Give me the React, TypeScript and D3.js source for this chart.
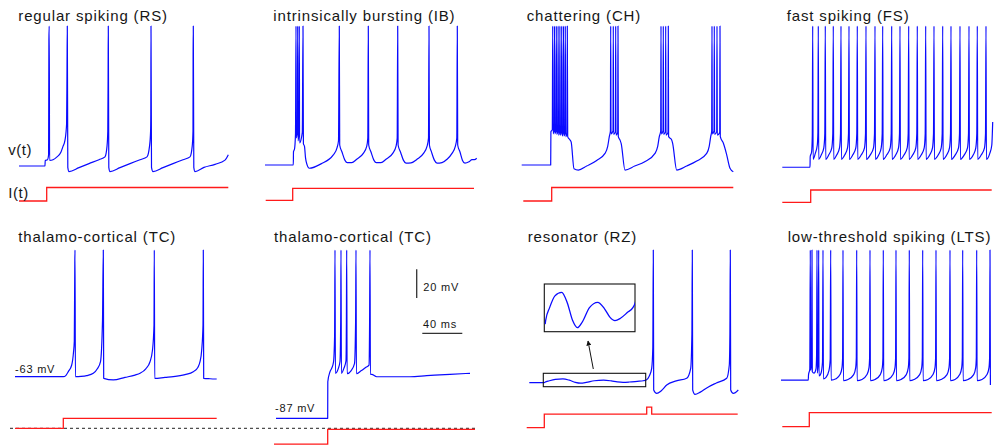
import React from "react";
import * as d3 from "d3";

type P = [number, number];

// ---------- data (time in ms, membrane potential in mV, current in arbitrary units) ----------
const TITLES = [
  "regular spiking (RS)",
  "intrinsically bursting (IB)",
  "chattering (CH)",
  "fast spiking (FS)",
  "thalamo-cortical (TC)",
  "thalamo-cortical (TC)",
  "resonator (RZ)",
  "low-threshold spiking (LTS)",
];

const RS_V: P[] = [[0,-70],[26,-70],[26.2,-66],[28.5,-65.5],[29.6,-62],[29.9,20],[30.2,30],[30.6,-66],[34,-65.5],[38,-63.5],[42,-60],[44,-56],[46,-51.5],[47.6,-40],[48,-2],[48.3,30],[48.8,-71],[50,-74],[60,-71.2],[70,-68.3],[80,-65.5],[86,-63.5],[88,-56],[88.8,-45],[89.1,-6],[89.3,30],[89.8,-71],[91,-74],[101,-71.2],[111,-68.3],[121,-65.5],[128,-63.5],[130.5,-56],[131.6,-45],[131.8,-33],[132,30],[132.5,-71],[134,-74],[144,-71.2],[154,-68.3],[164,-65.5],[171,-63.5],[173.2,-56],[174,-45],[174.1,8],[174.3,30],[174.8,-71],[176,-74],[185,-71],[196,-68.8],[206,-65.8],[209.3,-62]];
const RS_I: P[] = [[0,0],[27.7,10],[209.3,10]];

const IB_V: P[] = [[0,-69.3],[28.3,-69.3],[28.5,-59.8],[29.5,-58],[30.5,-47],[31,30],[31.3,-50],[32.4,-45],[32.7,30],[33,-52],[34,-46],[34.3,30],[34.6,-53.5],[37.3,-46],[38,30],[38.4,-54],[39.5,-56],[40.5,-64],[42,-69],[44.3,-71.6],[56,-68.5],[68.3,-62.1],[72,-57],[73.5,-52],[74.3,30],[74.7,-55],[77,-60],[80,-66],[82.3,-67.6],[86.7,-67.6],[91.7,-65.2],[98.3,-61],[101.7,-56],[102.8,-50],[103.3,30],[103.7,-55],[106,-60],[109,-66],[111.3,-67.6],[116,-67.6],[121,-65.2],[127.7,-61],[131,-56],[132.2,-50],[132.7,30],[133.1,-55],[135.5,-60],[138.5,-66],[141,-68],[146,-67.8],[152,-65.2],[158.5,-61],[162,-56],[163.5,-50],[164,30],[164.4,-55],[166.5,-60],[169.5,-66],[172,-68],[177,-67.6],[182,-65.2],[187,-61],[190.3,-56],[191.8,-50],[192.3,30],[192.7,-55],[195,-60],[197.5,-66],[200,-68],[204,-67],[207,-65.5],[209.5,-65.5],[211.7,-64.5]];
const IB_I: P[] = [[0.7,0],[27.7,8.9],[209,8.9]];

const CH_V: P[] = [[0,-69.3],[29,-69.3],[29.2,-45.5],[30.6,-44],[31,30],[31.4,-47],[32.5,-45],[32.8,30],[33.2,-47],[34.3,-45],[34.6,30],[35,-47.5],[36.1,-45.5],[36.4,30],[36.8,-48],[37.9,-46],[38.2,30],[38.6,-48],[39.7,-46],[40,30],[40.4,-48.5],[41.5,-46],[41.8,30],[42.2,-48.5],[43.3,-46.5],[43.6,30],[44,-49],[45.3,-46.5],[45.6,30],[46,-49],[48.3,-51.4],[49.5,-53],[52.3,-72],[56.6,-72.9],[65,-70],[75,-66],[83.3,-61],[86,-56],[87.6,-49],[88.7,-45],[89,30],[89.3,-47],[91.3,-45],[91.6,30],[91.9,-47.5],[93.7,-45.5],[94,30],[94.3,-48],[96,-46],[96.3,30],[96.6,-49],[98.3,-51.4],[99.5,-54],[103.3,-72.9],[113,-70],[123,-67],[133.3,-61],[136,-56],[137.6,-49],[139,-45],[139.3,30],[139.6,-47],[141.3,-45],[141.6,30],[141.9,-47.5],[143.7,-45.5],[144,30],[144.3,-48],[146.3,-46],[146.6,30],[146.9,-49],[150,-51.4],[151,-54],[155,-72.9],[165,-70],[175,-66.5],[185,-61],[187.5,-56],[189,-49],[190,-45],[190.3,30],[190.6,-47],[192.3,-45],[192.6,30],[192.9,-47.5],[195,-45.5],[195.3,30],[195.6,-48],[198,-46],[198.3,30],[198.6,-49],[201.7,-53.8],[205,-62],[208.3,-71.6],[211.6,-74.1]];
const CH_I: P[] = [[1.6,0],[30,10],[211.6,10]];

const FS_V: P[] = [[0,-70.9],[27.7,-70.9],[27.9,-63.4],[29.3,-60],[30,-48],[30.4,30],
[30.8,-65.2],[33,-61],[35,-55],[35.6,-46],[36,30],
[36.4,-65.2],[39,-62],[41.5,-57],[42.5,-47],[43,30],
[43.4,-65.2],[46.5,-62],[49.5,-57],[50.5,-47],[51,30],
[51.4,-65.2],[54.5,-62],[57.2,-57],[58.2,-47],[58.7,30],
[59.1,-65.2],[62.5,-62],[65.2,-57],[66.2,-47],[66.7,30],
[67.1,-65.2],[70.5,-62],[73.5,-57],[74.5,-47],[75,30],
[75.4,-65.2],[79,-62],[82.2,-57],[83.2,-47],[83.7,30],
[84.1,-65.2],[88,-62],[91.2,-57],[92.2,-47],[92.7,30],
[93.1,-65.2],[96.5,-62],[98.9,-57],[99.9,-47],[100.4,30],
[100.8,-65.2],[104.5,-62],[107.9,-57],[108.9,-47],[109.4,30],
[109.8,-65.2],[113.5,-62],[116.2,-57],[117.2,-47],[117.7,30],
[118.1,-65.2],[121.8,-62],[124.9,-57],[125.9,-47],[126.4,30],
[126.8,-65.2],[130.5,-62],[133.5,-57],[134.5,-47],[135,30],
[135.4,-65.2],[139,-62],[141.9,-57],[142.9,-47],[143.4,30],
[143.8,-65.2],[147.5,-62],[150.2,-57],[151.2,-47],[151.7,30],
[152.1,-65.2],[156,-62],[158.9,-57],[159.9,-47],[160.4,30],
[160.8,-65.2],[164.5,-62],[167.2,-57],[168.2,-47],[168.7,30],
[169.1,-65.2],[173,-62],[176.2,-57],[177.2,-47],[177.7,30],
[178.1,-65.2],[182,-62],[185.2,-57],[186.2,-47],[186.7,30],
[187.1,-65.2],[191,-62],[193.5,-57],[194.5,-47],[195,30],
[195.4,-65.2],[199,-62],[202.2,-57],[203.2,-47],[203.7,30],
[204.1,-65.2],[207.5,-61],[209.5,-55],[210.4,-38.6]];
const FS_I: P[] = [[0,0],[28.4,9.1],[209.4,9.1]];

const TC1_V: P[] = [[0,-63],[48.3,-63],[51,-62],[53.3,-59.3],[56.7,-54.4],[58.5,-45],[59.3,-37],[59.8,20],[60,30],[60.4,-63],[66,-62.8],[71.7,-62.2],[78.3,-60.5],[82.5,-57],[85.5,-52],[87.5,-22],[88.3,30],[88.7,-64.2],[98.3,-65.4],[110,-63.5],[120,-61.8],[125,-60.5],[131,-57],[135,-52],[137.5,-43.4],[139,-25],[139.3,30],[139.7,-64.2],[150,-63.5],[158.3,-63],[170,-61.5],[178.3,-59.3],[183,-56],[185,-52],[186.7,-43.4],[188,-25],[188.3,30],[188.7,-64.2],[195,-64.5],[201.7,-64.7]];
const TC1_I: P[] = [[0,0],[48.3,7.4],[201.7,7.4]];

const TC2_V: P[] = [[0,-87],[51.7,-87],[51.8,-61.6],[54,-54.6],[55.7,-52.2],[57.5,-48],[58.6,-30],[59,30],[59.4,-55.7],[62,-53],[64,-47.5],[64.7,-20],[65,30],[65.4,-55.7],[68,-52],[70,-47],[70.4,-20],[70.7,30],[71.1,-56],[75,-54],[78.5,-49],[79.6,-20],[80,30],[80.4,-56],[85,-54],[90,-51.5],[93,-50],[93.6,-20],[94,30],[94.4,-56.4],[95.7,-56.4],[100.7,-58.1],[134,-58.1],[150.7,-57.4],[174,-56.4],[194,-55.7]];
const TC2_I: P[] = [[-2,-12.4],[51.7,-1.5],[199,-1.5]];

const RZ_V: P[] = [[0,-64.8],[15,-64.8],[15.6,-64.45],[20,-63.4],[26,-62.4],[33.6,-62.1],[40,-63],[46,-64.5],[51.3,-65.1],[57,-64.6],[65,-63.4],[74.3,-62.95],[82,-63.5],[88,-64.2],[93.8,-64.5],[100,-64.3],[108,-63.8],[114,-63.4],[117,-62.9],[120,-60],[122.4,-54.5],[123.5,-40],[124,30],[124.4,-70],[127.4,-72.4],[132,-70.5],[137.4,-66.4],[147,-63.5],[157.4,-61.6],[161.4,-54.5],[162.6,-30],[163,30],[163.4,-70],[165.7,-73.1],[171,-71.5],[177.4,-68.5],[187,-65],[197.4,-61.6],[200,-52.1],[200.6,-30],[201,30],[201.4,-70],[204,-72.4],[209,-70]];
const RZ_I: P[] = [[-2.6,0],[15,10],[117.4,15.2],[122.4,10],[208.4,10]];
const RZ_ZOOM_WINDOW = [14, 116.4]; // ms shown in the magnified inset
const RZ_ZOOM_RANGE = [-65.1, -62.1]; // mV shown in the magnified inset

const LTS_V: P[] = [[0,-62.9],[27.3,-62.9],[27.5,-59.3],[28.8,-55],[29.3,30],[29.6,-56],[30.6,-50],[31,30],[31.3,-57],[33,-58],[35,-55],[35.6,-45],[36,30],[36.3,-58],[37.2,-50],[37.7,30],[38,-60],[40,-58],[41.5,-50],[42,30],[42.4,-62],[45,-61],[48,-56],[49.2,-48],[49.7,30],[50.1,-63],[55,-62],[59,-59],[61,-54],[61.6,-47],[62,30],
[62.4,-63.3],[67,-62.5],[72.7,-59],[74.7,-54],[75.3,-47],[75.7,30],
[76.1,-63.3],[81,-62.5],[86,-59],[88,-54],[88.6,-47],[89,30],
[89.4,-63.3],[94,-62.5],[99.3,-59],[101.3,-54],[101.9,-47],[102.3,30],
[102.7,-63.3],[107,-62.5],[112,-59],[114,-54],[114.6,-47],[115,30],
[115.4,-63.3],[120,-62.5],[125.3,-59],[127.3,-54],[127.9,-47],[128.3,30],
[128.7,-63.3],[133,-62.5],[138.7,-59],[140.7,-54],[141.3,-47],[141.7,30],
[142.1,-63.3],[147,-62.5],[152,-59],[154,-54],[154.6,-47],[155,30],
[155.4,-63.3],[160,-62.5],[166,-59],[168,-54],[168.6,-47],[169,30],
[169.4,-63.3],[174,-62.5],[178.7,-59],[180.7,-54],[181.3,-47],[181.7,30],
[182.1,-63.3],[187,-62.5],[192.7,-59],[194.7,-54],[195.3,-47],[195.7,30],
[196.1,-63.3],[201,-62.5],[206,-59],[208,-54],[208.6,-47],[209,30],[209.4,-66.4]];
const LTS_I: P[] = [[1.3,0],[28.3,10.4],[210.7,10.4]];

const TRACES_V = [RS_V, IB_V, CH_V, FS_V, TC1_V, TC2_V, RZ_V, LTS_V];
const TRACES_I = [RS_I, IB_I, CH_I, FS_I, TC1_I, TC2_I, RZ_I, LTS_I];
const SCALE_BAR_MV = 20;
const SCALE_BAR_MS = 40;

// ---------- layout ----------
const FONT = "'Liberation Sans', Arial, Helvetica, sans-serif";
const BLUE = "#0a0aff";
const RED = "#ff1a1a";
const TEXT = "#161616";
const PX_PER_MS = 1;
const PX_PER_UNIT_I = 1.35;

const LAYOUT = [
  { titleX: 18.3, titleY: 21, x0: 19, vDom: [-70, 30], vRange: [166, 26], iZero: 201 },
  { titleX: 273.3, titleY: 21, x0: 265, vDom: [-70, 30], vRange: [166, 26], iZero: 200.3 },
  { titleX: 526.7, titleY: 21, x0: 521.7, vDom: [-70, 30], vRange: [166, 26], iZero: 201 },
  { titleX: 786.7, titleY: 21, x0: 782.3, vDom: [-70, 30], vRange: [166, 26], iZero: 202.3 },
  { titleX: 18.3, titleY: 241.6, x0: 15, vDom: [-63, 30], vRange: [376.7, 250], iZero: 428.3 },
  { titleX: 274, titleY: 241.6, x0: 276, vDom: [-87, 30], vRange: [418.3, 250], iZero: 427.3 },
  { titleX: 527.7, titleY: 241.6, x0: 529.3, vDom: [-70, 30], vRange: [390, 250], iZero: 427.7 },
  { titleX: 787.7, titleY: 241.6, x0: 781, vDom: [-70, 30], vRange: [390, 250], iZero: 426.7 },
];

function scalesFor(k: number) {
  const L = LAYOUT[k];
  const x = d3.scaleLinear().domain([0, 100]).range([L.x0, L.x0 + 100 * PX_PER_MS]);
  const y = d3.scaleLinear().domain(L.vDom).range(L.vRange);
  const yi = d3.scaleLinear().domain([0, 10]).range([L.iZero, L.iZero - 10 * PX_PER_UNIT_I]);
  return { x, y, yi };
}

const titleStyle = { fontSize: 15, fontFamily: FONT, fill: TEXT, letterSpacing: "0.85px" } as const;
const smallStyle = { fontSize: 11, fontFamily: FONT, fill: TEXT, letterSpacing: "0.8px" } as const;
const axisStyle = { fontSize: 15, fontFamily: FONT, fill: TEXT, letterSpacing: "0.5px" } as const;

export default function App() {
  const panels = TITLES.map((title, k) => {
    const { x, y, yi } = scalesFor(k);
    const vLine = d3.line<P>().x((d) => x(d[0])).y((d) => y(d[1])).curve(d3.curveMonotoneX);
    const iLine = d3.line<P>().x((d) => x(d[0])).y((d) => yi(d[1])).curve(d3.curveStepAfter);
    return (
      <g key={k}>
        <text x={LAYOUT[k].titleX} y={LAYOUT[k].titleY} style={titleStyle}>
          {title}
        </text>
        <path d={vLine(TRACES_V[k]) || ""} fill="none" stroke={BLUE} strokeWidth={1.2} strokeLinejoin="round" />
        <path d={iLine(TRACES_I[k]) || ""} fill="none" stroke={RED} strokeWidth={1.3} />
      </g>
    );
  });

  // TC panels: zero-current dashed reference
  const tc1 = scalesFor(4);
  const tc2 = scalesFor(5);
  const zeroY = tc1.yi(0);

  // scale bars (in TC2 panel units)
  const barX = 416.7;
  const barTop = 269.3;
  const barLen = tc2.y(0) - tc2.y(SCALE_BAR_MV);
  const hBarX = 422.3;
  const hBarY = 333.3;
  const hBarLen = tc2.x(SCALE_BAR_MS) - tc2.x(0);

  // Resonator inset
  const rz = scalesFor(6);
  const boxX0 = rz.x(RZ_ZOOM_WINDOW[0]);
  const boxX1 = rz.x(RZ_ZOOM_WINDOW[1]);
  const boxY0 = 373.3;
  const boxY1 = 386.7;
  const inset = { x0: 544.3, x1: 635, y0: 284, y1: 331.7 };
  const ix = d3.scaleLinear().domain(RZ_ZOOM_WINDOW).range([inset.x0, inset.x1]);
  const iy = d3.scaleLinear().domain(RZ_ZOOM_RANGE).range([327.7, 292.3]);
  const insetData = RZ_V.filter((d) => d[0] >= RZ_ZOOM_WINDOW[0] - 5 && d[0] <= RZ_ZOOM_WINDOW[1] + 4);
  const insetLine = d3.line<P>().x((d) => ix(d[0])).y((d) => iy(d[1])).curve(d3.curveMonotoneX);

  return (
    <div style={{ position: "absolute", left: 0, top: 0 }}>
      <svg width={1001} height={448} style={{ display: "block", background: "#fff" }}>
        <defs>
          <clipPath id="insetClip">
            <rect x={inset.x0} y={inset.y0} width={inset.x1 - inset.x0} height={inset.y1 - inset.y0} />
          </clipPath>
          <marker id="arrowHead" viewBox="0 0 10 10" refX="9" refY="5" markerWidth="5" markerHeight="5" orient="auto">
            <path d="M0,0 L10,5 L0,10 z" fill="#111" />
          </marker>
        </defs>
        <rect x={0} y={0} width={1001} height={448} fill="#fff" />

        {/* dashed zero-current line for TC panels */}
        <line x1={10} x2={475} y1={zeroY} y2={zeroY} stroke="#222" strokeWidth={1} strokeDasharray="3,3" />

        {panels}

        {/* axis labels */}
        <text x={8.3} y={154.5} style={axisStyle}>v(t)</text>
        <text x={8.3} y={197.5} style={axisStyle}>I(t)</text>
        <text x={15} y={373} style={smallStyle}>-63 mV</text>
        <text x={275} y={411.5} style={smallStyle}>-87 mV</text>

        {/* scale bars */}
        <line x1={barX} x2={barX} y1={barTop} y2={barTop + barLen} stroke="#333" strokeWidth={1.3} />
        <text x={423.3} y={291} style={smallStyle}>20 mV</text>
        <line x1={hBarX} x2={hBarX + hBarLen} y1={hBarY} y2={hBarY} stroke="#333" strokeWidth={1.3} />
        <text x={423} y={328.3} style={smallStyle}>40 ms</text>

        {/* resonator zoom */}
        <rect x={boxX0} y={boxY0} width={boxX1 - boxX0} height={boxY1 - boxY0} fill="none" stroke="#111" strokeWidth={1.1} />
        <rect x={inset.x0} y={inset.y0} width={inset.x1 - inset.x0} height={inset.y1 - inset.y0} fill="none" stroke="#111" strokeWidth={1.1} />
        <path d={insetLine(insetData) || ""} fill="none" stroke={BLUE} strokeWidth={1.3} clipPath="url(#insetClip)" />
        <line x1={593.3} y1={369} x2={588} y2={341} stroke="#111" strokeWidth={1} markerEnd="url(#arrowHead)" />
      </svg>
    </div>
  );
}
